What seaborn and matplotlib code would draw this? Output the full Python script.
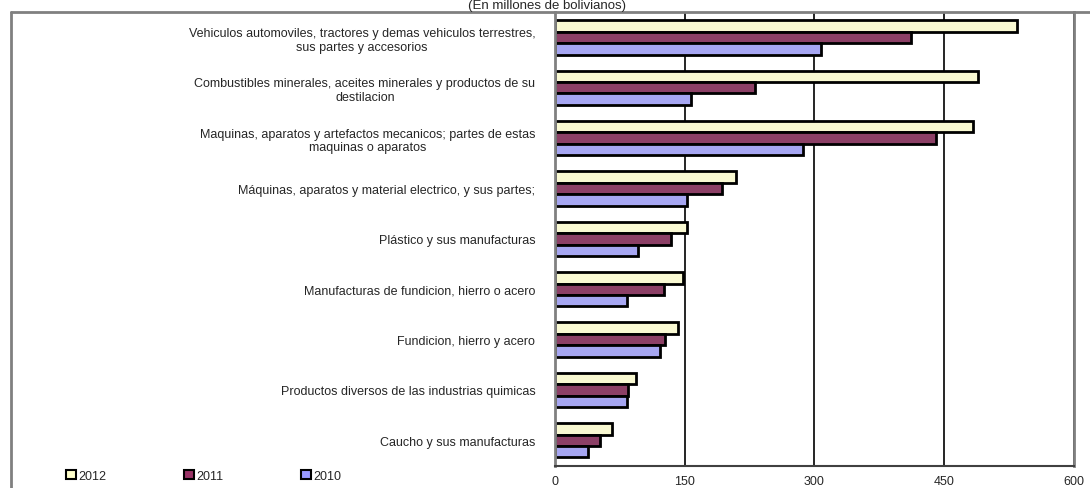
import numpy as np
import pandas as pd
import seaborn as sns
import matplotlib.pyplot as plt
from matplotlib.lines import Line2D
from matplotlib.patches import Patch

# Datos (millones de bolivianos)
categorias = [
    'Vehiculos automoviles, tractores y demas vehiculos terrestres,\nsus partes y accesorios',
    'Combustibles minerales, aceites minerales y productos de su\ndestilacion',
    'Maquinas, aparatos y artefactos mecanicos; partes de estas\nmaquinas o aparatos',
    'Máquinas, aparatos y material electrico, y sus partes;',
    'Plástico y sus manufacturas',
    'Manufacturas de fundicion, hierro o acero',
    'Fundicion, hierro y acero',
    'Productos diversos de las industrias quimicas',
    'Caucho y sus manufacturas',
]
anios = ['2012', '2011', '2010']
valores_2012 = [535, 489, 484, 209, 153, 148, 142, 94, 66]
valores_2011 = [412, 231, 441, 193, 134, 126, 128, 85, 52]
valores_2010 = [308, 158, 287, 153, 96, 84, 122, 83, 38]

colores = ['#FFFFCC', '#993366', '#9999FF']

df = pd.DataFrame({
    'categoria': categorias * 3,
    'anio': [a for a in anios for _ in categorias],
    'valor': valores_2012 + valores_2011 + valores_2010,
})

sns.set_style('white')
plt.rcParams['font.family'] = ['Liberation Sans', 'DejaVu Sans']

fig = plt.figure(figsize=(10.9, 4.89), dpi=100)
ax = fig.add_axes([0.509, 0.046, 0.476, 0.927])

sns.barplot(data=df, y='categoria', x='valor', hue='anio', hue_order=anios,
            palette=colores, orient='h', width=0.68, edgecolor='black',
            linewidth=2, ax=ax, legend=False)

ax.set_xlim(0, 600)
ax.set_ylim(len(categorias) - 0.5, -0.5)
ax.set_xticks([0, 150, 300, 450, 600])
ax.set_xticklabels(['0', '150', '300', '450', '600'], fontsize=9)
ax.set_xlabel('')
ax.set_ylabel('')
ax.set_yticks(range(len(categorias)))
ax.set_yticklabels(categorias, fontsize=9, multialignment='center')
ax.tick_params(axis='y', length=0, pad=14)
ax.tick_params(axis='x', length=4, color='black', width=1, direction='out', pad=3)
ax.set_yticks(np.arange(-0.5, len(categorias), 1), minor=True)
ax.tick_params(axis='y', which='minor', length=4, color='#808080', width=1.5, direction='out')
ax.xaxis.grid(True, color='black', linewidth=1.2)
ax.set_axisbelow(True)

for lado in ['left', 'right']:
    ax.spines[lado].set_color('#808080')
    ax.spines[lado].set_linewidth(2)
ax.spines['top'].set_visible(False)
ax.spines['bottom'].set_color('#404040')
ax.spines['bottom'].set_linewidth(1.5)

# Marco exterior del grafico (solo borde izquierdo y superior visibles)
x0 = 11 / 1090
y0 = 1 - 13 / 489
fig.add_artist(Line2D([x0, x0], [0, y0], transform=fig.transFigure, color='#808080', linewidth=2))
fig.add_artist(Line2D([x0, 1], [y0, y0], transform=fig.transFigure, color='#808080', linewidth=2))

fig.text(0.502, 1.0, '(En millones de bolivianos)', ha='center', va='top', fontsize=9.5)

handles = [Patch(facecolor=c, edgecolor='black', linewidth=1.5) for c in colores]
fig.legend(handles, anios, loc='center left', bbox_to_anchor=(0.05, 0.025), ncol=3,
           frameon=False, fontsize=9, handlelength=0.8, handleheight=0.8,
           handletextpad=0.2, columnspacing=6.2)

plt.savefig('out.png', dpi=100)
